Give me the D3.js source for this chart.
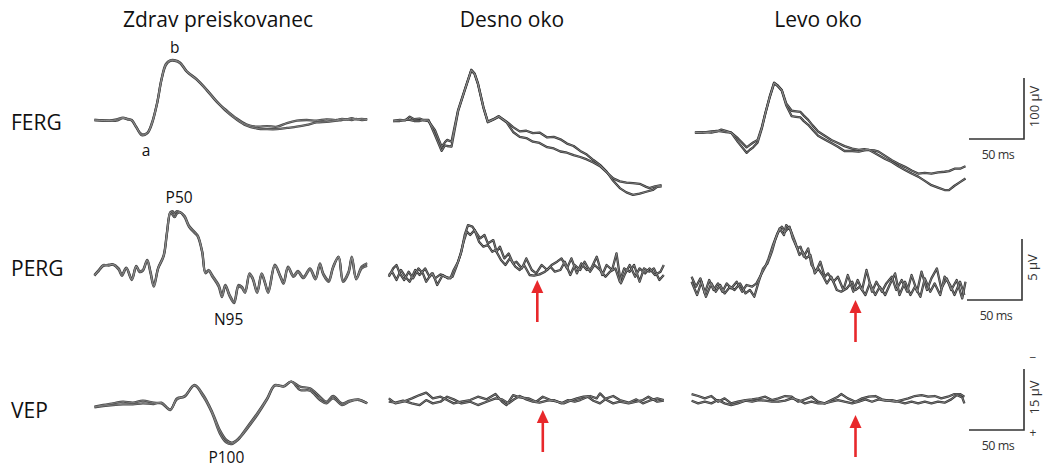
<!DOCTYPE html>
<html>
<head>
<meta charset="utf-8">
<script src="https://cdn.jsdelivr.net/npm/d3@7"></script>
<style>
  body { margin: 0; background: #fff; }
  svg { display: block; font-family: "Open Sans", "Noto Sans", sans-serif; }
</style>
</head>
<body>
<div id="chart"></div>
<script>
// column / row titles
const columnTitles = ["Zdrav preiskovanec", "Desno oko", "Levo oko"];
const rowTitles = ["FERG", "PERG", "VEP"];

// traces: [ms, µV]
const fergHealthyA = [[4,0],[18,-1],[24,1],[30,4],[34,2],[38,0],[42,-11],[47,-25],[52,-22],[56,-8],[61,27],[65,66],[69,90],[73,97],[77,97],[82,93],[88,79],[97,66],[106,49],[115,30],[124,16],[133,3],[142,-7],[152,-11],[161,-10],[170,-11],[179,-5],[188,-1],[197,0],[206,-1],[215,1],[224,0],[229,2],[233,1],[238,3],[242,1],[247,2],[252,1]];
const fergHealthyB = [[4,0],[18,-1],[24,-1],[30,3],[34,1],[38,-1],[42,-12],[47,-23],[52,-21],[56,-6],[61,28],[65,67],[69,92],[73,98],[77,98],[82,94],[88,80],[97,67],[106,50],[115,31],[124,14],[133,1],[142,-9],[152,-14],[161,-15],[170,-15],[179,-13],[188,-11],[197,-8],[206,-4],[215,-3],[224,-1],[229,0],[233,1],[238,0],[242,2],[247,0],[252,1]];
const fergRightA = [[12,0],[18,2],[23,1],[27,7],[31,3],[36,4],[40,1],[44,0],[50,-15],[56,-42],[59,-35],[61,-31],[65,-34],[71,18],[77,51],[83,84],[86,78],[89,62],[94,23],[98,-1],[103,3],[108,8],[115,-1],[121,-10],[127,-17],[133,-16],[139,-20],[145,-19],[152,-27],[158,-26],[164,-30],[170,-37],[176,-41],[182,-49],[188,-55],[194,-64],[200,-72],[206,-83],[212,-98],[218,-110],[224,-117],[230,-121],[236,-119],[242,-116],[248,-113],[252,-108],[256,-107]];
const fergRightB = [[12,0],[18,0],[23,2],[27,2],[31,0],[36,0],[40,2],[44,2],[50,-23],[56,-49],[59,-40],[61,-41],[65,-42],[71,16],[77,50],[83,83],[86,77],[89,61],[94,22],[98,-2],[103,2],[108,7],[115,-2],[121,-18],[127,-26],[133,-28],[139,-34],[145,-36],[152,-43],[158,-45],[164,-50],[170,-52],[176,-56],[182,-59],[188,-63],[194,-68],[200,-74],[206,-84],[212,-94],[218,-99],[224,-101],[230,-102],[236,-103],[242,-108],[245,-110],[250,-107],[256,-105]];
const fergLeftA = [[9,0],[16,1],[24,0],[29,2],[33,5],[37,3],[42,0],[48,-9],[56,-24],[59,-20],[62,-16],[66,-12],[70,10],[73,32],[77,59],[81,82],[84,78],[88,70],[92,48],[97,36],[101,35],[105,34],[108,28],[112,21],[116,12],[121,2],[127,-5],[133,-12],[139,-17],[145,-22],[152,-26],[158,-28],[163,-27],[167,-28],[172,-29],[176,-31],[182,-38],[188,-45],[194,-51],[200,-56],[206,-62],[212,-67],[218,-66],[224,-67],[230,-65],[236,-64],[240,-63],[245,-59],[250,-59],[255,-55]];
const fergLeftB = [[9,0],[16,0],[24,2],[29,3],[33,2],[37,1],[42,0],[48,-15],[56,-33],[59,-28],[62,-24],[66,-16],[70,8],[73,31],[77,58],[81,81],[84,77],[88,69],[92,45],[97,27],[101,26],[105,25],[108,19],[112,13],[116,5],[121,-5],[127,-11],[133,-17],[139,-23],[145,-30],[152,-30],[158,-31],[163,-29],[167,-28],[172,-33],[176,-37],[182,-43],[188,-48],[194,-55],[200,-61],[206,-67],[212,-72],[218,-79],[224,-86],[230,-90],[236,-94],[240,-94],[245,-87],[250,-81],[255,-75]];

const pergHealthyA = [[4,-0.14],[8,0.27],[12,0.68],[17,0.63],[21,0.74],[26,0.41],[29,-0.08],[33,0.46],[38,-0.46],[42,0.6],[45,0.19],[48,0.27],[52,1.1],[55,0.14],[58,-0.96],[62,0.46],[67,1.5],[70,3.4],[73,5.0],[75,5.1],[77,4.9],[79,5.1],[82,5.0],[86,4.7],[90,3.9],[95,3.4],[98,3.1],[102,1.8],[105,0.08],[108,0.27],[111,-0.14],[117,-0.96],[120,-1.78],[123,-0.96],[127,-1.78],[131,-2.3],[135,-0.96],[138,-1.1],[141,-1.5],[145,0.0],[148,-0.4],[152,-1.5],[156,0.0],[159,-0.7],[162,-1.5],[168,0.7],[173,-0.2],[176,-0.7],[180,0.55],[185,-0.2],[189,0.2],[194,-0.3],[200,0.4],[205,-0.4],[209,0.82],[212,0.0],[217,-0.55],[221,0.55],[226,1.37],[230,-0.55],[235,0.14],[238,1.37],[242,-0.41],[247,0.55],[252,0.82]];
const pergHealthyB = [[4,-0.2],[8,0.2],[12,0.6],[17,0.7],[21,0.7],[26,0.3],[29,-0.2],[33,0.4],[38,-0.55],[42,0.55],[45,0.1],[48,0.2],[52,1.0],[55,0.0],[58,-1.1],[62,0.4],[67,1.4],[70,3.3],[73,5.0],[75,4.8],[77,4.6],[79,4.9],[82,5.0],[86,4.6],[90,3.8],[95,3.3],[98,3.0],[102,1.7],[105,0.0],[108,0.2],[111,-0.25],[117,-1.1],[120,-1.95],[123,-1.05],[127,-1.9],[131,-2.45],[135,-1.1],[138,-1.2],[141,-1.6],[145,-0.1],[148,-0.5],[152,-1.6],[156,-0.1],[159,-0.8],[162,-1.6],[168,0.6],[173,-0.3],[176,-0.85],[180,0.45],[185,-0.3],[189,0.1],[194,-0.4],[200,0.3],[205,-0.5],[209,0.7],[212,-0.1],[217,-0.7],[221,0.45],[226,1.3],[230,-0.7],[235,0.0],[238,1.25],[242,-0.5],[247,0.4],[252,0.6]];
const pergRightA = [[8,0],[12,0.68],[15,0.96],[18,0.27],[22,-0.27],[26,0.41],[30,-0.14],[35,0.68],[39,0.27],[42,-0.41],[47,0.27],[50,-0.14],[55,0.19],[59,0],[64,-0.14],[67,0.55],[71,1.23],[74,2.05],[77,3.42],[80,4.23],[84,4.1],[88,3.55],[91,3.14],[95,3.42],[98,2.73],[103,3.0],[106,2.05],[109,2.46],[113,1.5],[117,1.9],[121,1.09],[124,1.23],[129,0.68],[133,1.5],[138,0.55],[142,0.27],[147,0.96],[152,0.55],[156,0.96],[161,1.23],[165,1.5],[170,0.68],[174,1.5],[179,0.27],[183,1.09],[188,0.55],[192,0.68],[197,1.64],[202,0.14],[206,0.96],[211,0.55],[215,1.91],[219,-0.55],[223,0.27],[227,0.96],[232,0],[236,0.68],[241,0.27],[245,0.68],[250,0.14],[255,0.41],[258,0.96]];
const pergRightB = [[8,0.14],[11,0.41],[15,-0.27],[19,0.55],[23,0],[27,-0.41],[32,0.55],[36,0.14],[41,0.68],[45,0],[48,0.27],[52,-0.68],[57,0.14],[62,-0.14],[66,0],[70,0.96],[73,1.78],[76,2.87],[79,3.69],[82,3.42],[86,3.83],[90,2.87],[94,2.46],[98,2.6],[102,2.05],[105,2.19],[110,1.37],[114,0.96],[118,1.5],[123,0.82],[127,0.55],[131,0.96],[136,0.14],[140,0.08],[145,0.19],[150,0.41],[155,0.82],[159,0.41],[164,0.55],[168,1.23],[173,0.14],[177,0.96],[182,0.55],[186,1.23],[191,0.41],[195,0.96],[200,0.55],[205,0],[209,0.41],[214,0.68],[218,-0.41],[222,0.68],[227,0.41],[231,0.96],[236,-0.41],[240,0.68],[245,0.41],[249,0.68],[254,-0.27],[258,0.14]];
const pergLeftA = [[6,0.82],[10,0],[14,0.68],[18,-0.55],[22,0.55],[26,-0.27],[30,0.27],[34,-0.41],[38,0.27],[42,-0.14],[47,0.41],[52,-0.41],[56,0.14],[61,0],[65,0.27],[69,0.96],[73,1.64],[76,2.32],[80,3.42],[84,4.37],[88,4.92],[91,4.51],[95,4.92],[98,3.96],[102,3.14],[105,3.28],[108,2.46],[112,3.14],[115,1.78],[119,1.23],[123,2.05],[127,0.82],[130,1.09],[135,0.41],[139,0.82],[144,-0.27],[148,0.96],[153,-0.41],[157,0.55],[161,-0.27],[165,1.37],[170,-0.41],[174,0.41],[179,-0.41],[183,0.27],[188,0.82],[192,-0.27],[197,0.55],[202,-0.41],[206,0.96],[211,-0.41],[215,1.23],[220,-0.27],[224,0.68],[229,1.5],[233,-0.14],[238,0.68],[242,-0.27],[247,0.55],[252,-0.96],[255,0.41]];
const pergLeftB = [[6,0.41],[11,-0.68],[15,0.41],[19,-0.82],[24,0.27],[28,-0.41],[32,0.14],[36,-0.55],[41,0],[45,-0.27],[50,0.27],[55,-0.55],[59,-0.27],[63,-0.82],[67,0.41],[71,1.5],[75,1.91],[79,2.87],[82,3.83],[86,4.78],[90,4.23],[92,5.05],[96,4.64],[100,3.69],[104,2.6],[107,2.87],[110,2.32],[114,2.6],[118,1.09],[121,1.5],[125,0.96],[129,0.27],[133,0.82],[138,-0.27],[142,-0.41],[147,-0.14],[152,0.41],[155,-0.27],[159,0],[164,-0.68],[168,0.27],[173,-0.68],[177,0],[182,-0.68],[186,0.14],[191,1.09],[195,-0.68],[200,0.41],[205,-0.68],[209,0],[214,-0.82],[218,0.68],[223,-0.41],[227,0.27],[232,-0.68],[236,0.82],[241,0.14],[245,-0.68],[250,0.41],[254,-0.68]];

// VEP: positive values drawn downwards
const vepHealthyA = [[4,0.41],[12,0],[21,-0.41],[30,-0.82],[39,-0.57],[48,-1.07],[58,-0.57],[65,-0.41],[73,1.23],[79,-1.64],[86,-2.05],[95,-4.92],[103,-2.46],[111,1.64],[118,6.15],[124,8.6],[129,9.26],[135,8.2],[142,5.74],[152,2.05],[161,-1.64],[168,-4.92],[176,-4.51],[183,-5.74],[191,-4.51],[200,-4.1],[209,-2.05],[215,-0.82],[221,-2.21],[229,-0.41],[236,-1.07],[244,-1.39],[252,-0.41]];
const vepHealthyB = [[4,0.57],[12,0.25],[21,0],[30,-0.16],[39,-0.16],[48,-0.41],[58,-0.25],[65,-0.57],[73,1.07],[79,-1.39],[86,-2.21],[95,-4.75],[103,-2.05],[111,2.05],[118,6.97],[124,9.26],[129,9.59],[135,8.44],[142,6.15],[152,2.46],[161,-1.39],[168,-4.75],[176,-4.67],[183,-5.74],[191,-3.69],[200,-3.52],[209,-1.23],[215,-0.41],[221,-1.64],[229,0],[236,-0.82],[244,-1.23],[252,-0.41]];
const vepRightA = [[8,-0.57],[14,0.66],[21,0.25],[29,-0.57],[36,-1.39],[42,-1.97],[48,-0.57],[55,-0.98],[61,-0.16],[67,0.66],[74,0.25],[82,-0.16],[89,-0.98],[97,-0.33],[105,-1.64],[111,0.25],[115,1.07],[121,-1.39],[127,-0.82],[135,-0.57],[142,0.25],[148,-0.98],[155,-0.16],[161,0.25],[167,0.66],[173,0],[179,-0.57],[185,-0.98],[191,-1.15],[197,-0.57],[200,-1.8],[206,-0.16],[212,0.66],[218,0.25],[226,0.66],[233,0.25],[239,-0.16],[244,-0.98],[252,0.25],[258,0]];
const vepRightB = [[8,0.25],[14,0.49],[21,0],[29,0.66],[36,1.07],[42,-0.16],[48,0.66],[55,0.25],[61,-0.98],[67,-0.33],[74,0.66],[82,0.25],[89,1.07],[97,0.25],[105,-0.57],[111,-0.33],[117,0.66],[121,-0.16],[127,-1.15],[133,-0.33],[139,0.25],[145,0.49],[152,0],[158,-0.16],[165,0.66],[171,-0.16],[177,0.25],[182,-0.16],[189,-0.98],[194,0],[200,0.66],[206,-0.57],[212,-1.15],[218,-0.16],[226,0.49],[233,-0.33],[239,0.66],[245,0],[252,-0.57],[258,-0.16]];
const vepLeftA = [[6,-1.64],[12,-1.15],[18,-0.57],[24,-1.15],[30,0.25],[36,-0.57],[42,0.66],[48,0.25],[55,-0.16],[61,-0.33],[67,-0.57],[73,-0.98],[79,-0.16],[85,-0.57],[91,-1.15],[97,-0.98],[103,0.25],[109,-0.33],[115,-0.98],[121,0.25],[127,0.66],[133,-0.16],[139,-0.98],[142,-1.64],[148,-0.57],[155,0.25],[161,-0.57],[167,-0.98],[173,-1.15],[179,-0.33],[185,0],[191,0.25],[197,-0.16],[203,-0.57],[209,-1.15],[215,-1.39],[221,-0.98],[227,-1.15],[233,-0.57],[239,-0.98],[245,-1.64],[250,-1.64],[254,-0.98]];
const vepLeftB = [[6,0],[12,0.66],[18,0.25],[24,0.66],[30,-0.16],[36,0.66],[42,1.07],[48,0.66],[55,0],[61,0.25],[67,-0.16],[73,0],[79,0.25],[85,0.25],[91,0],[97,-0.57],[103,-0.16],[109,0.66],[115,0.25],[121,0.66],[127,0.66],[133,0.25],[139,-0.16],[145,0.25],[152,0.66],[158,0.25],[164,-0.33],[170,0.25],[176,-0.33],[182,0],[188,-0.16],[194,0.25],[200,0.66],[206,0.25],[212,0.66],[218,0.25],[224,0.66],[230,0.25],[236,0.49],[242,-0.33],[247,-1.39],[252,-0.82],[254,0.66]];

const traces = [
  [[fergHealthyA, fergHealthyB], [fergRightA, fergRightB], [fergLeftA, fergLeftB]],
  [[pergHealthyA, pergHealthyB], [pergRightA, pergRightB], [pergLeftA, pergLeftB]],
  [[vepHealthyA, vepHealthyB], [vepRightA, vepRightB], [vepLeftA, vepLeftB]]
];

// wave labels on the healthy column: [row, text, ms, µV, offset px]
const waveLabels = [[0, "b", 77, 97, -8], [0, "a", 51, -25, 21], [1, "P50", 81, 5.1, -8], [1, "N95", 126, -2.3, 24], [2, "P100", 124, 9.26, 20]];
// red arrows: [row, col, ms]
const arrowMarks = [[1, 1, 143], [1, 2, 155], [2, 1, 148], [2, 2, 155]];
const scaleMs = 50;
const scaleUv = [100, 5, 15];
const scaleLabels = ["100 µV", "5 µV", "15 µV"];

// layout
const W = 1051, H = 468;
const colX = [90, 380, 685];
const baseY = [[120, 121, 132.7], [273.3, 276.7, 286.7], [405, 400.7, 400.7]];
const yDir = [-1, -1, 1];
const barPx = 61;
const rowLabelY = [130, 276, 418];
const barCorner = [[1024, 139], [1022, 300], [1024, 430]];
const arrowY = [[[280, 322], [300, 342]], [[410, 452], [415, 457]]];

const svg = d3.select("#chart").append("svg").attr("width", W).attr("height", H);

const xScale = col => d3.scaleLinear().domain([0, 250]).range([colX[col], colX[col] + 275]);
const yScale = (row, col) => d3.scaleLinear().domain([0, scaleUv[row]]).range([baseY[row][col], baseY[row][col] + yDir[row] * barPx]);

// titles
svg.selectAll(".col-title").data(columnTitles).join("text")
  .attr("class", "col-title")
  .attr("x", (d, i) => [218, 512, 818][i]).attr("y", 27)
  .attr("text-anchor", "middle").attr("font-size", 21).attr("fill", "#111")
  .text(d => d);

svg.selectAll(".row-title").data(rowTitles).join("text")
  .attr("class", "row-title")
  .attr("x", 11).attr("y", (d, i) => rowLabelY[i])
  .attr("font-size", 21).attr("fill", "#111")
  .text(d => d);

// traces
rowTitles.forEach((r, row) => {
  columnTitles.forEach((c, col) => {
    const x = xScale(col), y = yScale(row, col);
    const line = d3.line().x(d => x(d[0])).y(d => y(d[1]))
      .curve(col === 0 ? d3.curveCatmullRom.alpha(0.5) : d3.curveLinear);
    const g = svg.append("g");
    traces[row][col].forEach(tr => {
      g.append("path").attr("d", line(tr)).attr("fill", "none")
        .attr("stroke", col === 0 ? "#454545" : "#333").attr("stroke-width", 2.3).attr("stroke-linejoin", "round");
    });
    traces[row][col].forEach(tr => {
      g.append("path").attr("d", line(tr)).attr("fill", "none")
        .attr("stroke", "#9a9a9a").attr("stroke-width", 0.7).attr("stroke-linejoin", "round");
    });
  });
});

// wave labels
waveLabels.forEach(([row, text, t, v, dy]) => {
  const x = xScale(0), y = yScale(row, 0);
  svg.append("text").attr("x", x(t)).attr("y", y(v) + dy)
    .attr("text-anchor", "middle").attr("font-size", 15.5).attr("fill", "#111")
    .text(text);
});

// arrows
arrowMarks.forEach(([row, col, t]) => {
  const ax = xScale(col)(t);
  const [tipY, tailY] = arrowY[row - 1][col - 1];
  svg.append("line").attr("x1", ax).attr("x2", ax).attr("y1", tipY + 10).attr("y2", tailY)
    .attr("stroke", "#e8282b").attr("stroke-width", 2.6);
  svg.append("path")
    .attr("d", `M${ax},${tipY} L${ax - 6},${tipY + 13} L${ax + 6},${tipY + 13} Z`)
    .attr("fill", "#e8282b");
});

// scale bars
rowTitles.forEach((r, row) => {
  const [cx, cy] = barCorner[row];
  const sx = d3.scaleLinear().domain([0, scaleMs]).range([0, xScale(0)(scaleMs) - xScale(0)(0)]);
  const sy = d3.scaleLinear().domain([0, scaleUv[row]]).range([0, barPx]);
  const g = svg.append("g").attr("fill", "#333");
  g.append("path")
    .attr("d", `M${cx - sx(scaleMs)},${cy} H${cx} V${cy - sy(scaleUv[row])}`)
    .attr("fill", "none").attr("stroke", "#333").attr("stroke-width", 1.6);
  g.append("text").attr("x", cx - 26).attr("y", cy + 19.5)
    .attr("text-anchor", "middle").attr("font-size", 12.5).attr("letter-spacing", -0.5)
    .text(`${scaleMs} ms`);
  g.append("text")
    .attr("transform", `translate(${cx + 15},${cy - sy(scaleUv[row]) / 2 - 2}) rotate(-90)`)
    .attr("text-anchor", "middle").attr("font-size", 13)
    .text(scaleLabels[row]);
  if (row === 2) {
    g.append("text").attr("x", cx + 9).attr("y", cy - sy(scaleUv[row]) - 7)
      .attr("text-anchor", "middle").attr("font-size", 12).text("−");
    g.append("text").attr("x", cx + 9).attr("y", cy + 7)
      .attr("text-anchor", "middle").attr("font-size", 12).text("+");
  }
});
</script>
</body>
</html>
